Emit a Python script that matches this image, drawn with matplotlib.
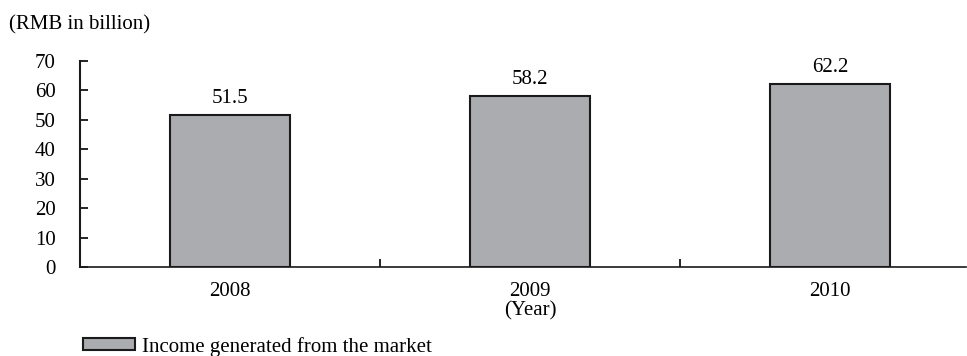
import matplotlib
matplotlib.use('Agg')
import matplotlib.pyplot as plt
import matplotlib.transforms as mtransforms
import numpy as np

years = ['2008', '2009', '2010']
income = [51.5, 58.2, 62.2]
yticks = [0, 10, 20, 30, 40, 50, 60, 70]

plt.rcParams['font.family'] = ['Liberation Serif', 'DejaVu Serif']
fs = 15

W, H = 967, 356
fig = plt.figure(figsize=(W / 100, H / 100), dpi=100)
ax = fig.add_axes([80 / W, (H - 267) / H, 886 / W, 206 / H])

x = np.arange(len(years))
bar_color = '#abacaf'
bars = ax.bar(x, income, 0.4, color=bar_color, edgecolor='#1a1a1a', linewidth=1.5,
              label='Income generated from the market', zorder=3)
for bar, val in zip(bars, income):
    ax.annotate(f'{val}', (bar.get_x() + bar.get_width() / 2, val), xytext=(0, 5),
                textcoords='offset points', ha='center', va='bottom', fontsize=fs)

ax.set_xlim(-0.5, 2.453)
ax.set_ylim(0, 70)
ax.set_yticks(yticks)
ax.tick_params(axis='y', direction='in', length=6, width=1.2, labelsize=fs, pad=17.5)
ax.set_xticks(x)
ax.set_xticklabels(years)
ax.tick_params(axis='x', which='major', length=0, labelsize=fs, pad=10.5)
ax.set_xticks([0.5, 1.5], minor=True)
ax.tick_params(axis='x', which='minor', direction='in', length=6, width=1.2)

for side in ['top', 'right']:
    ax.spines[side].set_visible(False)
ax.spines['left'].set_linewidth(1.5)
ax.spines['bottom'].set_linewidth(1.2)
ax.spines['left'].set_color('#1a1a1a')
ax.spines['bottom'].set_color('#1a1a1a')

fig.text(9 / W, 1 - 25 / H, '(RMB in billion)', fontsize=fs, va='center', ha='left')

# "(Year)" sits under the middle category
trans = mtransforms.blended_transform_factory(ax.transData, fig.transFigure)
ax.text(1, 1 - 311 / H, '(Year)', transform=trans, fontsize=fs, ha='center', va='center')

ax.legend(loc='lower left', bbox_to_anchor=(75 / W, -9 / H), bbox_transform=fig.transFigure,
          frameon=False, fontsize=fs, handlelength=2.5, handleheight=0.48,
          handletextpad=0.33, borderaxespad=0)

plt.savefig('out.png', dpi=100)
